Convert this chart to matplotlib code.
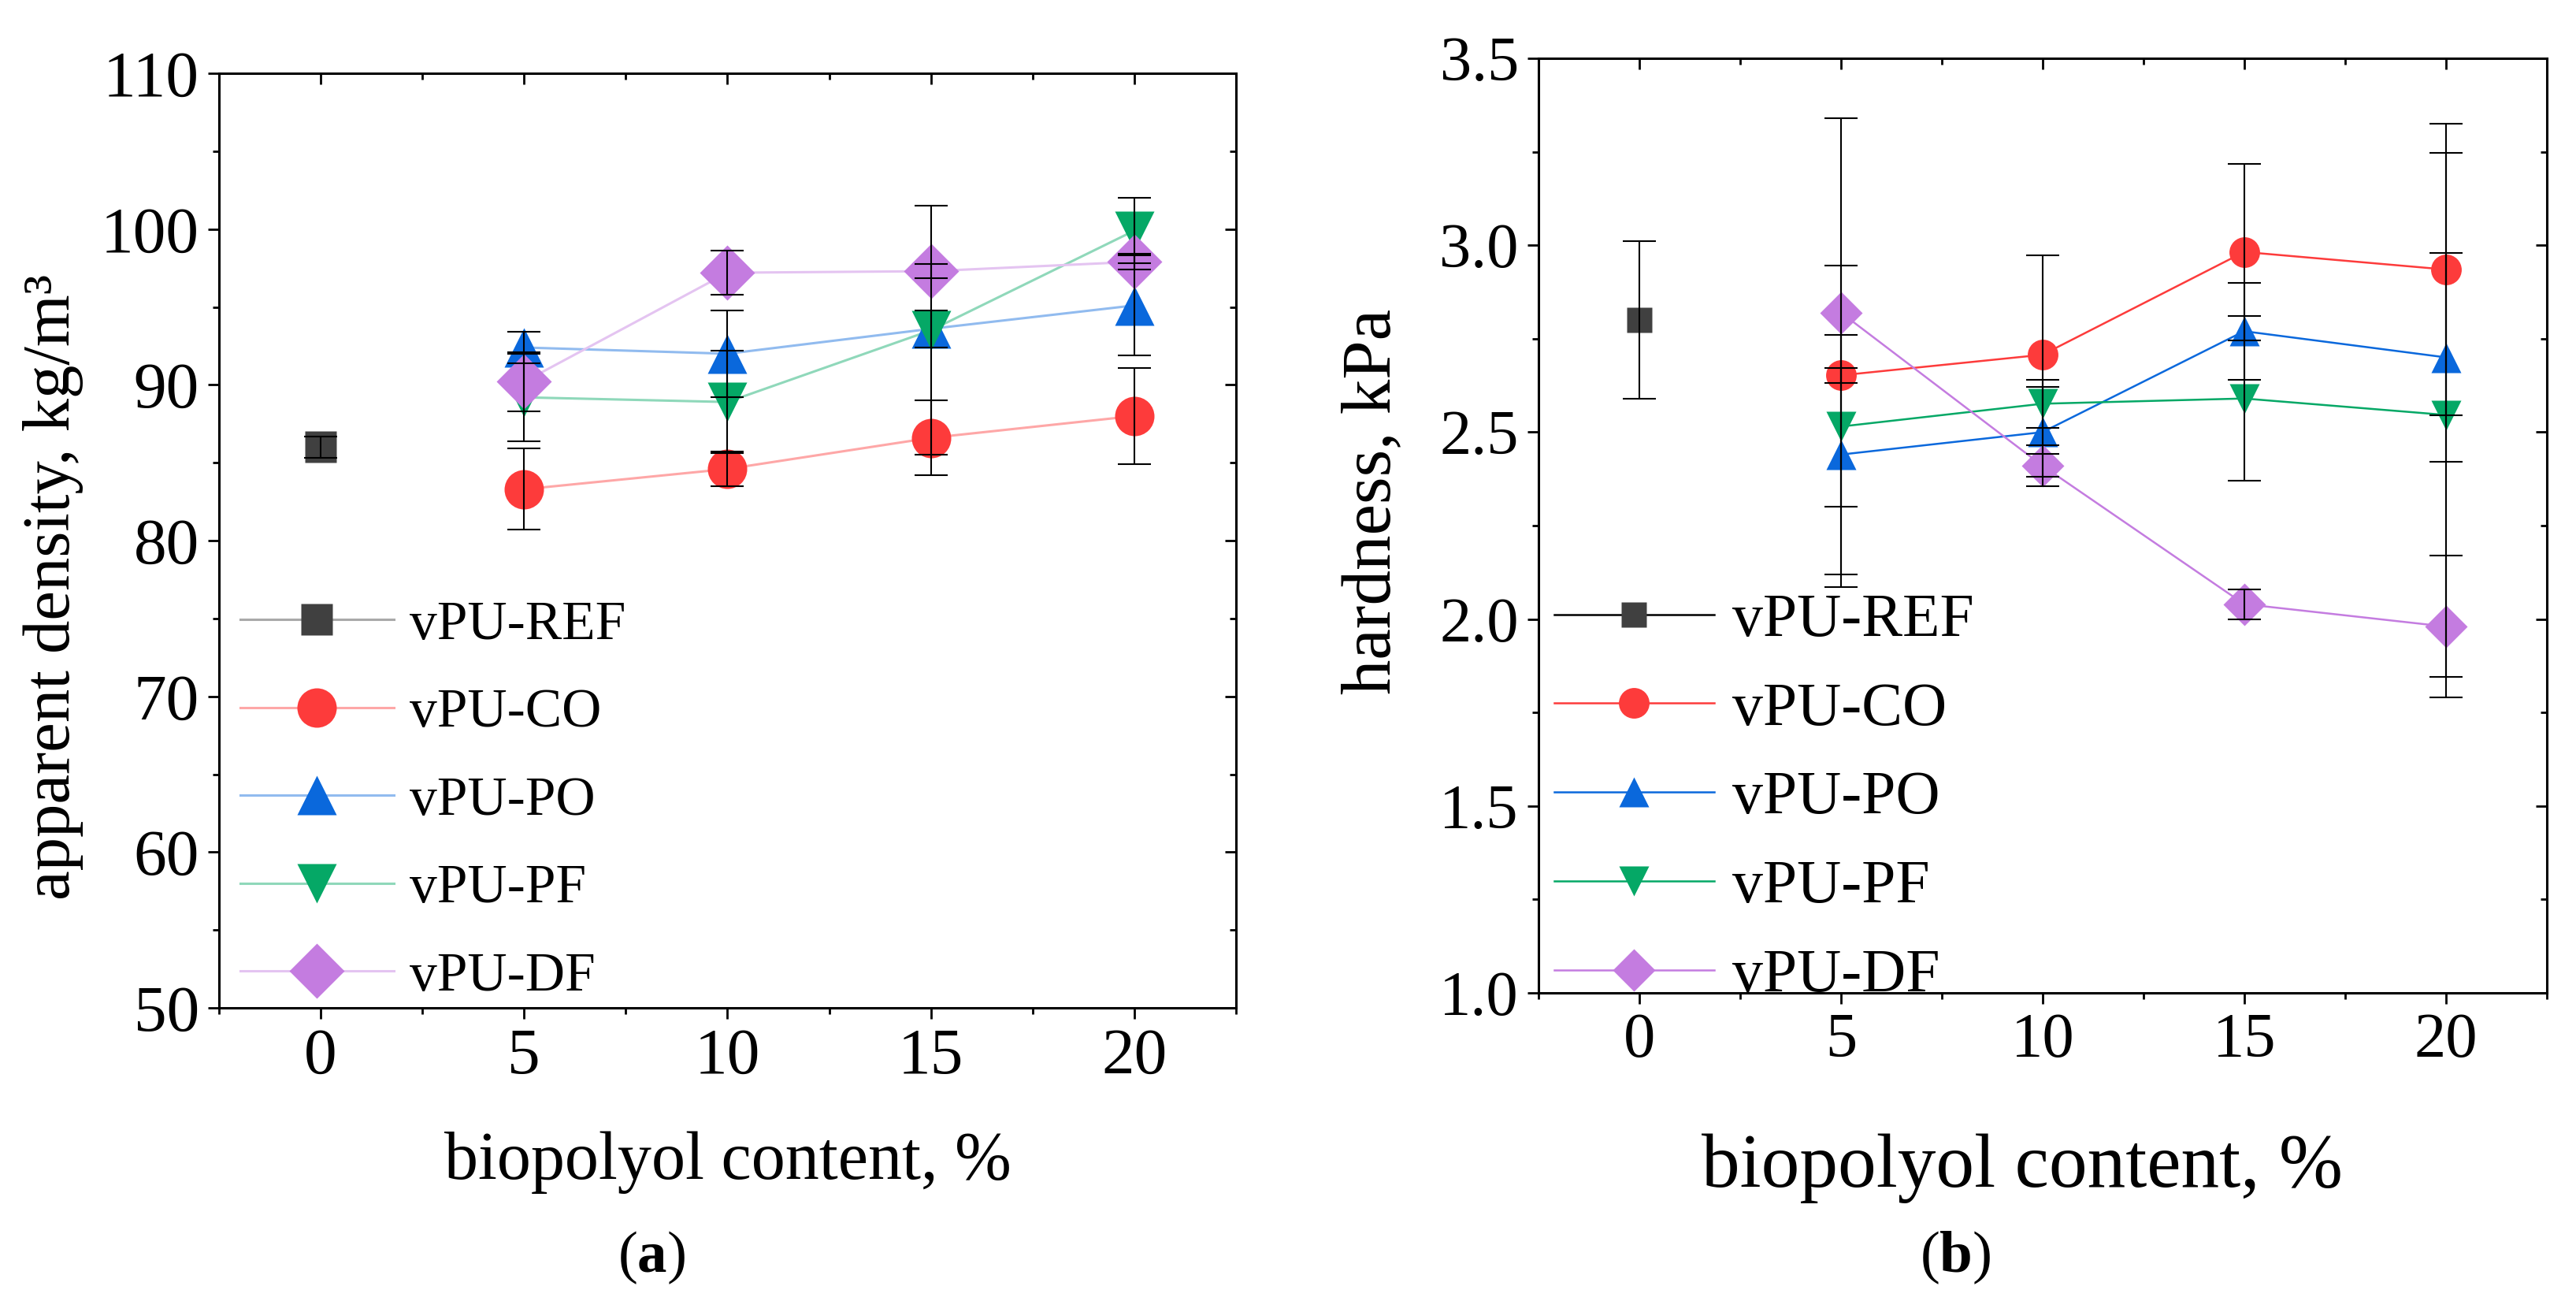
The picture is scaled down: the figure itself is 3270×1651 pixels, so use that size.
import matplotlib
matplotlib.use("Agg")
import matplotlib.pyplot as plt
from matplotlib.colors import to_rgb
from matplotlib.ticker import MultipleLocator

plt.rcParams['font.family'] = ['Liberation Serif', 'DejaVu Serif']
plt.rcParams['mathtext.fontset'] = 'custom'
plt.rcParams['mathtext.rm'] = 'Liberation Serif'
plt.rcParams['mathtext.bf'] = 'Liberation Serif:bold'

# data
content = [5, 10, 15, 20]
ref_x = [0]

dens_ref, dens_ref_err = [86.0], [0.7]
dens_co, dens_co_err = [83.3, 84.6, 86.6, 88.0], [2.6, 1.1, 2.4, 3.1]
dens_po, dens_po_err = [92.4, 92.0, 93.6, 95.1], [1.0, 2.8, 1.2, 3.2]
dens_pf, dens_pf_err = [89.2, 88.9, 93.5, 99.9], [2.8, 3.3, 8.0, 2.1]
dens_df, dens_df_err = [90.2, 97.2, 97.3, 97.9], [1.9, 1.4, 0.45, 0.5]

hard_ref, hard_ref_err = [2.80], [0.21]
hard_co, hard_co_err = [2.652, 2.707, 2.982, 2.935], [0.02, 0.265, 0.236, 0.39]
hard_po, hard_po_err = [2.44, 2.50, 2.77, 2.70], [0.32, 0.12, 0.13, 0.28]
hard_pf, hard_pf_err = [2.515, 2.576, 2.59, 2.546], [0.43, 0.064, 0.22, 0.70]
hard_df, hard_df_err = [2.82, 2.41, 2.04, 1.98], [0.52, 0.055, 0.04, 0.19]

labels = ['vPU-REF', 'vPU-CO', 'vPU-PO', 'vPU-PF', 'vPU-DF']
colors = ['#404040', '#fd3b3b', '#0a68dc', '#05a866', '#c47ce0']
markers = ['s', 'o', '^', 'v', 'D']


def lighten(c, f):
    r, g, b = to_rgb(c)
    return (r + (1 - r) * f, g + (1 - g) * f, b + (1 - b) * f)


def style_axes(ax, ylim, ymajor, yminor, yfmt, labelsize):
    ax.set_xlim(-2.5, 22.5)
    ax.set_ylim(*ylim)
    ax.xaxis.set_major_locator(MultipleLocator(5))
    ax.xaxis.set_minor_locator(MultipleLocator(2.5))
    ax.yaxis.set_major_locator(MultipleLocator(ymajor))
    ax.yaxis.set_minor_locator(MultipleLocator(yminor))
    ax.yaxis.set_major_formatter(yfmt)
    for s in ax.spines.values():
        s.set_linewidth(2.2)
    ax.tick_params(which='major', direction='out', length=10, width=2, labelsize=labelsize, pad=8)
    ax.tick_params(which='minor', direction='out', length=6, width=2)
    # mirrored ticks pointing inward on top and right
    top = ax.secondary_xaxis('top')
    top.xaxis.set_major_locator(MultipleLocator(5))
    top.xaxis.set_minor_locator(MultipleLocator(2.5))
    top.tick_params(which='major', direction='in', length=10, width=2, labeltop=False)
    top.tick_params(which='minor', direction='in', length=6, width=2)
    right = ax.secondary_yaxis('right')
    right.yaxis.set_major_locator(MultipleLocator(ymajor))
    right.yaxis.set_minor_locator(MultipleLocator(yminor))
    right.tick_params(which='major', direction='in', length=10, width=2, labelright=False)
    right.tick_params(which='minor', direction='in', length=6, width=2)


def draw(ax, series, line_colors, msize, lw):
    handles = []
    for (x, y, e), lc, c, m in zip(series, line_colors, colors, markers):
        ms = msize * 0.8 if m == 's' else msize
        ax.plot(x, y, color=lc, lw=lw, zorder=2)
        ax.plot(x, y, ls='none', marker=m, color=c, ms=ms, mec='none', zorder=3)
        ax.errorbar(x, y, yerr=e, fmt='none', ecolor='black', elinewidth=1.5,
                    capsize=15, capthick=1.5, zorder=4)
        handles.append(plt.Line2D([], [], color=lc, lw=lw, marker=m, ms=ms,
                                  mfc=c, mec='none'))
    return handles


fig = plt.figure(figsize=(32.7, 16.51), dpi=100)
ax1 = fig.add_axes([0.0850, 0.2253, 0.3948, 0.7183])
ax2 = fig.add_axes([0.5972, 0.2368, 0.3914, 0.7184])

# (a) apparent density
series_a = [(ref_x, dens_ref, dens_ref_err), (content, dens_co, dens_co_err),
            (content, dens_po, dens_po_err), (content, dens_pf, dens_pf_err),
            (content, dens_df, dens_df_err)]
light = [lighten(c, 0.55) for c in colors]
ha = draw(ax1, series_a, light, 36, 2.2)
style_axes(ax1, (50, 110), 10, 5, '{x:.0f}', 60)
ax1.set_xlabel('biopolyol content, %', fontsize=62, labelpad=40)
ax1.set_ylabel('apparent density, kg/m³', fontsize=61, labelpad=16)
ax1.yaxis.label.set_y(0.45)
ax1.legend(ha, labels, loc='upper left', bbox_to_anchor=(0.021, 0.436), frameon=False,
           fontsize=50, handlelength=2.8, handletextpad=0.3, labelspacing=0.69,
           borderpad=0, borderaxespad=0)

# (b) hardness
series_b = [(ref_x, hard_ref, hard_ref_err), (content, hard_co, hard_co_err),
            (content, hard_po, hard_po_err), (content, hard_pf, hard_pf_err),
            (content, hard_df, hard_df_err)]
line_b = ['black'] + colors[1:]
hb = draw(ax2, series_b, line_b, 28, 1.8)
style_axes(ax2, (1.0, 3.5), 0.5, 0.25, '{x:.1f}', 58)
ax2.set_xlabel('biopolyol content, %', fontsize=70, labelpad=58)
ax2.xaxis.label.set_x(0.48)
ax2.set_ylabel('hardness, kPa', fontsize=64, labelpad=32)
ax2.yaxis.label.set_y(0.526)
ax2.legend(hb, labels, loc='upper left', bbox_to_anchor=(0.016, 0.428), frameon=False,
           fontsize=56, handlelength=2.6, handletextpad=0.3, labelspacing=0.53,
           borderpad=0, borderaxespad=0)

fig.text(0.2528, 0.022, r'($\mathbf{a}$)', fontsize=54, ha='center')
fig.text(0.7590, 0.022, r'($\mathbf{b}$)', fontsize=54, ha='center')

fig.savefig('out.png', dpi=100)
